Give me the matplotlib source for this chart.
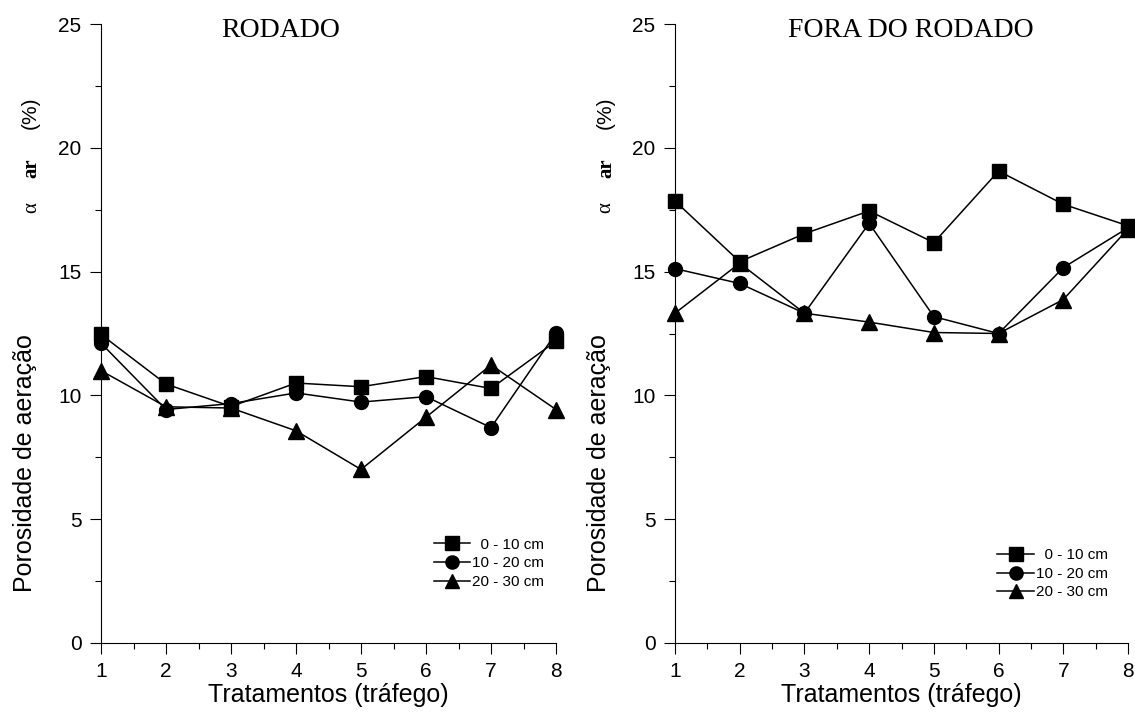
'''
Porosidade de aeracao por tratamento: rodado x fora do rodado
'''

import numpy as np
import matplotlib
matplotlib.use('Agg')
import matplotlib.pyplot as plt
from matplotlib.ticker import MultipleLocator

plt.rcParams['font.family'] = ['Liberation Sans', 'DejaVu Sans']

tratamentos = [1, 2, 3, 4, 5, 6, 7, 8]
camadas = ['  0 - 10 cm', '10 - 20 cm', '20 - 30 cm']

# rodado
rod_0_10 = [12.46, 10.46, 9.55, 10.5, 10.35, 10.76, 10.28, 12.19]
rod_10_20 = [12.11, 9.43, 9.67, 10.1, 9.73, 9.95, 8.7, 12.52]
rod_20_30 = [11.0, 9.54, 9.49, 8.57, 7.01, 9.12, 11.23, 9.43]

# fora do rodado
fora_0_10 = [17.85, 15.4, 16.53, 17.45, 16.17, 19.06, 17.72, 16.85]
fora_10_20 = [15.12, 14.52, 13.32, 16.95, 13.18, 12.5, 15.16, 16.77]
fora_20_30 = [13.32, 15.34, 13.32, 12.96, 12.54, 12.5, 13.87, 16.72]

markers = ['s', 'o', '^']
msizes = [10, 10, 11]

fig = plt.figure(figsize=(11.35, 7.14), dpi=100)

H = 619 / 714.
B = 71 / 714.
ax1 = fig.add_axes([101 / 1135., B, 455 / 1135., H])
ax2 = fig.add_axes([675 / 1135., B, 453 / 1135., H])

# (eixo, series, titulo, x do titulo, ancora da legenda)
paineis = [
	(ax1, [rod_0_10, rod_10_20, rod_20_30], 'RODADO', 0.395, (0.99, 0.075)),
	(ax2, [fora_0_10, fora_10_20, fora_20_30], 'FORA DO RODADO', 0.52, (0.972, 0.058)),
]

for ax, series, titulo, tx, leg_pos in paineis:
	for i in range(3):
		ax.plot(tratamentos, series[i], color='k', linewidth=1.1,
				marker=markers[i], markersize=msizes[i], clip_on=False,
				label=camadas[i])

	ax.set_xlim(1, 8)
	ax.set_ylim(0, 25)
	ax.spines['top'].set_visible(False)
	ax.spines['right'].set_visible(False)
	ax.xaxis.set_major_locator(MultipleLocator(1))
	ax.xaxis.set_minor_locator(MultipleLocator(0.5))
	ax.yaxis.set_major_locator(MultipleLocator(5))
	ax.yaxis.set_minor_locator(MultipleLocator(2.5))
	ax.tick_params(which='major', direction='out', length=8, width=0.8,
				   labelsize=15, pad=6)
	ax.tick_params(which='minor', direction='out', length=4, width=0.8)

	ax.set_xlabel('Tratamentos (tráfego)', fontsize=18, labelpad=1)

	ax.text(-0.167, 0.291, 'Porosidade de aeração', transform=ax.transAxes,
			rotation=90, fontsize=18, ha='center', va='center')
	ax.text(-0.152, 0.704, 'α', transform=ax.transAxes, rotation=90,
			fontsize=15, family='Liberation Serif', ha='center', va='center')
	ax.text(-0.152, 0.767, 'ar', transform=ax.transAxes, rotation=90,
			fontsize=15, family='Liberation Serif', fontweight='bold',
			ha='center', va='center')
	ax.text(-0.155, 0.856, '(%)', transform=ax.transAxes, rotation=90,
			fontsize=15, ha='center', va='center')

	ax.text(tx, 0.99, titulo, transform=ax.transAxes, fontsize=20,
			family='Liberation Serif', ha='center', va='center')

	ax.legend(loc='lower right', bbox_to_anchor=leg_pos, frameon=False,
			  fontsize=11, handlelength=2.4, handletextpad=0.1,
			  labelspacing=0.3, borderpad=0, markerscale=0.95)

fig.savefig('out.png', dpi=100)
